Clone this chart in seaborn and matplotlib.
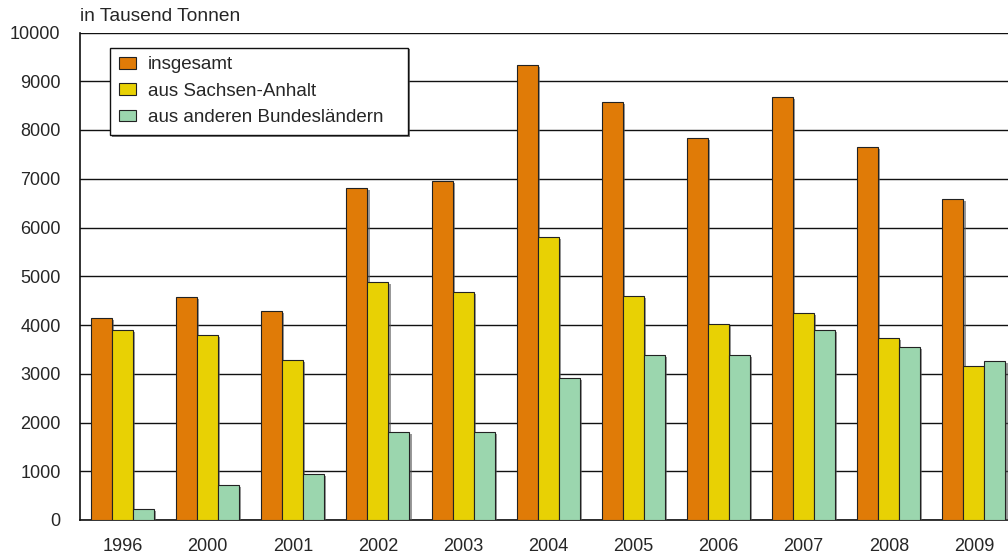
import matplotlib
matplotlib.use("Agg")
import matplotlib.pyplot as plt
import matplotlib.patheffects as pe
import seaborn as sns
import pandas as pd

years = ["1996", "2000", "2001", "2002", "2003", "2004", "2005", "2006", "2007", "2008", "2009"]
insgesamt = [4150, 4570, 4280, 6820, 6950, 9340, 8570, 7830, 8670, 7660, 6580]
sachsen_anhalt = [3900, 3800, 3280, 4880, 4670, 5800, 4590, 4020, 4240, 3730, 3160]
andere_laender = [220, 720, 950, 1800, 1800, 2910, 3380, 3390, 3890, 3550, 3260]
series_names = ["insgesamt", "aus Sachsen-Anhalt", "aus anderen Bundesländern"]
colors = ["#E07B07", "#E8D104", "#9BD6AE"]
y_ticks = list(range(0, 10001, 1000))

df = pd.DataFrame({
    "Jahr": years * 3,
    "Wert": insgesamt + sachsen_anhalt + andere_laender,
    "Reihe": [series_names[0]] * len(years) + [series_names[1]] * len(years)
             + [series_names[2]] * len(years),
})

sns.set_theme(style="white")
plt.rcParams["font.family"] = ["Liberation Sans", "DejaVu Sans"]

fig = plt.figure(figsize=(10.08, 5.57), dpi=100)
ax = fig.add_axes([80 / 1008, 37 / 557, 1 - 80 / 1008, 487.5 / 557])

sns.barplot(data=df, x="Jahr", y="Wert", hue="Reihe", order=years,
            hue_order=series_names, palette=colors, width=0.74, gap=0,
            edgecolor="#222222", linewidth=0.8, saturation=1, ax=ax,
            legend=False)

shadow = [pe.SimplePatchShadow(offset=(1.5, -1.5), shadow_rgbFace="#555555", alpha=0.6),
          pe.Normal()]
for p in ax.patches:
    p.set_path_effects(shadow)
    p.set_zorder(3)

ax.set_ylim(0, 10000)
ax.set_xlim(-0.5, 10.4)
ax.set_yticks(y_ticks)
ax.set_yticklabels([str(t) for t in y_ticks], fontsize=13)
ax.tick_params(axis="x", labelsize=13, length=0, pad=13)
ax.tick_params(axis="y", length=0, pad=14)
ax.yaxis.grid(True, color="#111111", linewidth=1.0)
ax.set_axisbelow(True)
ax.set_xlabel("")
ax.set_ylabel("")
for side in ["top", "right"]:
    ax.spines[side].set_visible(False)
for side in ["left", "bottom"]:
    ax.spines[side].set_color("#111111")
    ax.spines[side].set_linewidth(1.2)

ax.text(0, 1.016, "in Tausend Tonnen", transform=ax.transAxes, fontsize=13.75,
        ha="left", va="bottom")

handles = [plt.Rectangle((0, 0), 1, 1, facecolor=c, edgecolor="#222222", linewidth=0.8)
           for c in colors]
leg = ax.legend(handles, series_names, loc="upper left", mode="expand",
                bbox_to_anchor=(30 / 928, 1 - 15 / 487.5, 298 / 928, 0), fontsize=13.5,
                frameon=True, fancybox=False, framealpha=1, edgecolor="#111111",
                handlelength=0.9, handleheight=0.6, handletextpad=0.64,
                labelspacing=0.5, borderpad=0.47, borderaxespad=0)
leg.get_frame().set_linewidth(1.0)
leg.get_frame().set_path_effects(
    [pe.SimplePatchShadow(offset=(1.2, -1.2), shadow_rgbFace="#444444", alpha=0.7),
     pe.Normal()])
leg.set_zorder(5)

fig.savefig("out.png", dpi=100)
